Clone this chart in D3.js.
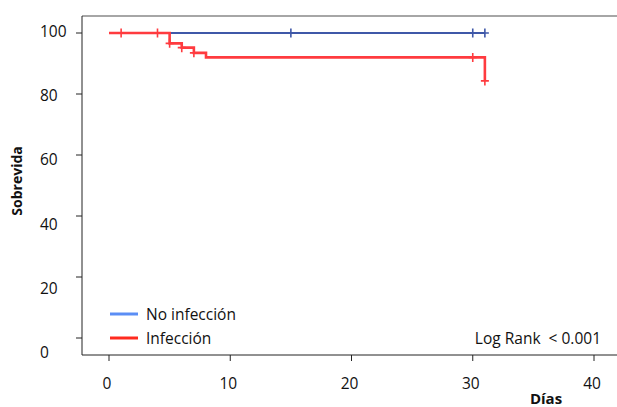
<!DOCTYPE html>
<html>
<head>
<meta charset="utf-8">
<script src="https://cdn.jsdelivr.net/npm/d3@7"></script>
<style>
  body { margin: 0; background: #fff; }
  text { font-family: "Open Sans", sans-serif; fill: #111; white-space: pre; }
</style>
</head>
<body>
<script>
// Kaplan-Meier curves
const groups = ["No infección", "Infección"];
const noInfTimes = [0, 31];
const noInfSurv = [100, 100];
const noInfCensor = [15, 30, 31];
const infTimes = [0, 5, 6, 7, 8, 31];
const infSurv = [100, 96.6, 95.2, 93.5, 92.0, 84.3];
const infCensor = [1, 4, 5, 6, 7, 30, 31];
const xTicks = [0, 10, 20, 30, 40];
const yTicks = [0, 20, 40, 60, 80, 100];
const pText = "Log Rank  < 0.001";

const width = 617, height = 407;

const x = d3.scaleLinear([0, 40], [109, 594]);
const y = d3.scaleLinear([0, 100], [338, 33]);
// tick labels sit slightly lower than the ticks in the original
const yLab = d3.scaleLinear([0, 100], [358, 37]);

const svg = d3.select("body").append("svg")
    .attr("width", width)
    .attr("height", height);

// frame: top line + left/bottom axes
svg.append("line")
    .attr("x1", 82).attr("x2", width)
    .attr("y1", 16).attr("y2", 16)
    .attr("stroke", "#888").attr("stroke-width", 1.5);

svg.append("line")
    .attr("x1", 82).attr("x2", 82)
    .attr("y1", 16).attr("y2", 355)
    .attr("stroke", "#222").attr("stroke-width", 1);

svg.append("line")
    .attr("x1", 82).attr("x2", width)
    .attr("y1", 355).attr("y2", 355)
    .attr("stroke", "#222").attr("stroke-width", 1);

// y ticks
svg.append("g").selectAll("line")
  .data(yTicks)
  .join("line")
    .attr("x1", 76).attr("x2", 82)
    .attr("y1", d => y(d)).attr("y2", d => y(d))
    .attr("stroke", "#222");

svg.append("g").selectAll("text")
  .data(yTicks)
  .join("text")
    .attr("x", 40)
    .attr("y", d => yLab(d))
    .attr("font-size", 15.5)
    .text(d => d);

// x ticks
svg.append("g").selectAll("line")
  .data(xTicks)
  .join("line")
    .attr("x1", d => x(d)).attr("x2", d => x(d))
    .attr("y1", 355).attr("y2", 361)
    .attr("stroke", "#222");

svg.append("g").selectAll("text")
  .data(xTicks)
  .join("text")
    .attr("x", d => x(d) - 2)
    .attr("y", 389)
    .attr("text-anchor", "middle")
    .attr("font-size", 15.5)
    .text(d => d);

// axis titles
svg.append("text")
    .attr("x", 546).attr("y", 404)
    .attr("text-anchor", "middle")
    .attr("font-size", 15)
    .attr("font-weight", "bold")
    .text("Días");

svg.append("text")
    .attr("transform", "translate(22,181) rotate(-90)")
    .attr("text-anchor", "middle")
    .attr("font-size", 14)
    .attr("font-weight", "bold")
    .text("Sobrevida");

// curves
const step = d3.line()
    .x(d => x(d[0]))
    .y(d => y(d[1]))
    .curve(d3.curveStepAfter);

function survAt(times, surv, t) {
  const i = d3.bisectRight(times, t) - 1;
  return surv[Math.max(0, i)];
}

const series = [
  {times: noInfTimes, surv: noInfSurv, censor: noInfCensor, color: "#3f58a8", w: 2.2},
  {times: infTimes, surv: infSurv, censor: infCensor, color: "#ff3b3f", w: 2.6}
];

series.forEach(s => {
  const pts = s.times.map((t, i) => [t, s.surv[i]]);
  svg.append("path")
      .datum(pts)
      .attr("fill", "none")
      .attr("stroke", s.color)
      .attr("stroke-width", s.w)
      .attr("d", step);

  svg.append("g")
      .attr("stroke", s.color)
      .attr("stroke-width", 1.6)
    .selectAll("path")
    .data(s.censor)
    .join("path")
      .attr("d", t => {
        const cx = x(t), cy = y(survAt(s.times, s.surv, t));
        return `M${cx - 4},${cy}H${cx + 4}M${cx},${cy - 4.5}V${cy + 4.5}`;
      });
});

// legend
const legColors = ["#5b8ef5", "#ff2a1f"];
const leg = svg.append("g").selectAll("g")
  .data(groups)
  .join("g")
    .attr("transform", (d, i) => `translate(110,${314 + i * 24})`);

leg.append("line")
    .attr("x1", 0).attr("x2", 28)
    .attr("stroke", (d, i) => legColors[i])
    .attr("stroke-width", 3);

leg.append("text")
    .attr("x", 36).attr("y", 5.5)
    .attr("font-size", 15.5)
    .text(d => d);

svg.append("text")
    .attr("x", 601).attr("y", 344)
    .attr("text-anchor", "end")
    .attr("font-size", 15.5)
    .text(pText);
</script>
</body>
</html>
